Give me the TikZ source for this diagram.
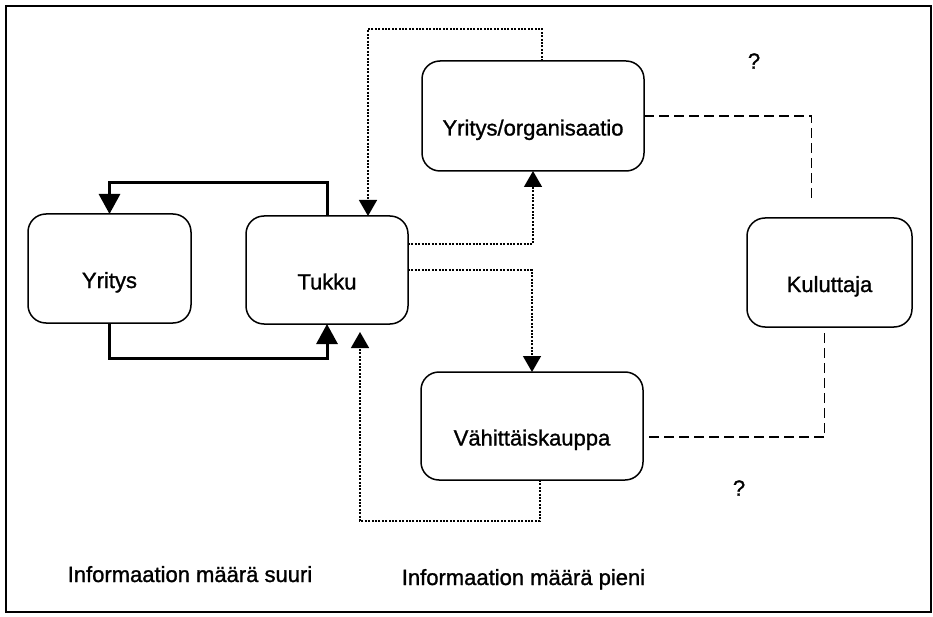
\documentclass[tikz,border=0pt]{standalone}
\usepackage{fontspec}
\setmainfont{Liberation Sans}[FakeBold=1.2]
\usetikzlibrary{arrows.meta,calc}
\begin{document}
\begin{tikzpicture}[x=1pt,y=-1pt,
  font=\fontsize{22}{26}\selectfont\addfontfeature{FakeBold=1.2},
  box/.style={draw,line width=1.5pt,rounded corners=18pt,inner sep=0pt,
    outer sep=0pt,text height=39pt,text depth=0pt},
  flowline/.style={line width=3pt,-{Triangle[length=20pt,width=21pt]}},
  dotline/.style={line width=1.4pt,dash pattern=on 2pt off 1.4pt,
    -{Triangle[length=16pt,width=18pt]}},
  dashline/.style={line width=1.4pt,dash pattern=on 10pt off 5pt},
  label/.style={inner sep=0pt}]
\useasboundingbox (0,0) rectangle (933,617);
% outer frame
\draw[line width=2.5pt] (6,6) rectangle (931,612);

% boxes
\node[box,minimum width=163pt,minimum height=109pt] (yritys) at (109.5,268.5) {Yritys};
\node[box,minimum width=162pt,minimum height=108pt] (tukku)  at (327,270) {Tukku};
\node[box,minimum width=222pt,minimum height=110pt] (yo)     at (533,116) {Yritys/organisaatio};
\node[box,minimum width=165pt,minimum height=109pt] (kul)    at (829.5,272.5) {Kuluttaja};
\node[box,minimum width=222pt,minimum height=108pt] (vk)     at (532,426) {Vähittäiskauppa};

% strong flows between Yritys and Tukku
\draw[flowline] (tukku.north) -- ++(0,-33) -| (yritys.north);
\draw[flowline] (yritys.south) -- ++(0,35) -| (tukku.south);

% dotted information flows
\draw[dotline] ($(yo.north)+(9,0)$) -- ++(0,-32) -| ($(tukku.north)+(41,0)$);
\draw[dotline] ($(tukku.east)+(0,-26)$) -| (yo.south);
\draw[dotline] (tukku.east) -| (vk.north);
\coordinate (tip) at ($(tukku.south)+(33,8)$);
\draw[dotline] ($(vk.south)+(8,0)$) -- ++(0,41) -| (tip);

% uncertain links to the consumer
\coordinate (kulend) at ($(kul.north)+(-18,-15)$);
\draw[dashline] (yo.east) -| (kulend);
\coordinate (kulstart) at ($(kul.south)+(-5,6)$);
\draw[dashline] (kulstart) |- ($(vk.east)+(0,11)$);

% question marks
\node[label] (q1) at (754,61) {?};
\node[label] (q2) at (739,488) {?};

% captions
\node[label,anchor=base] (suuri) at (190,582) {Informaation määrä suuri};
\node[label,anchor=base] (pieni) at (523.5,585) {Informaation määrä pieni};
\end{tikzpicture}
\end{document}
